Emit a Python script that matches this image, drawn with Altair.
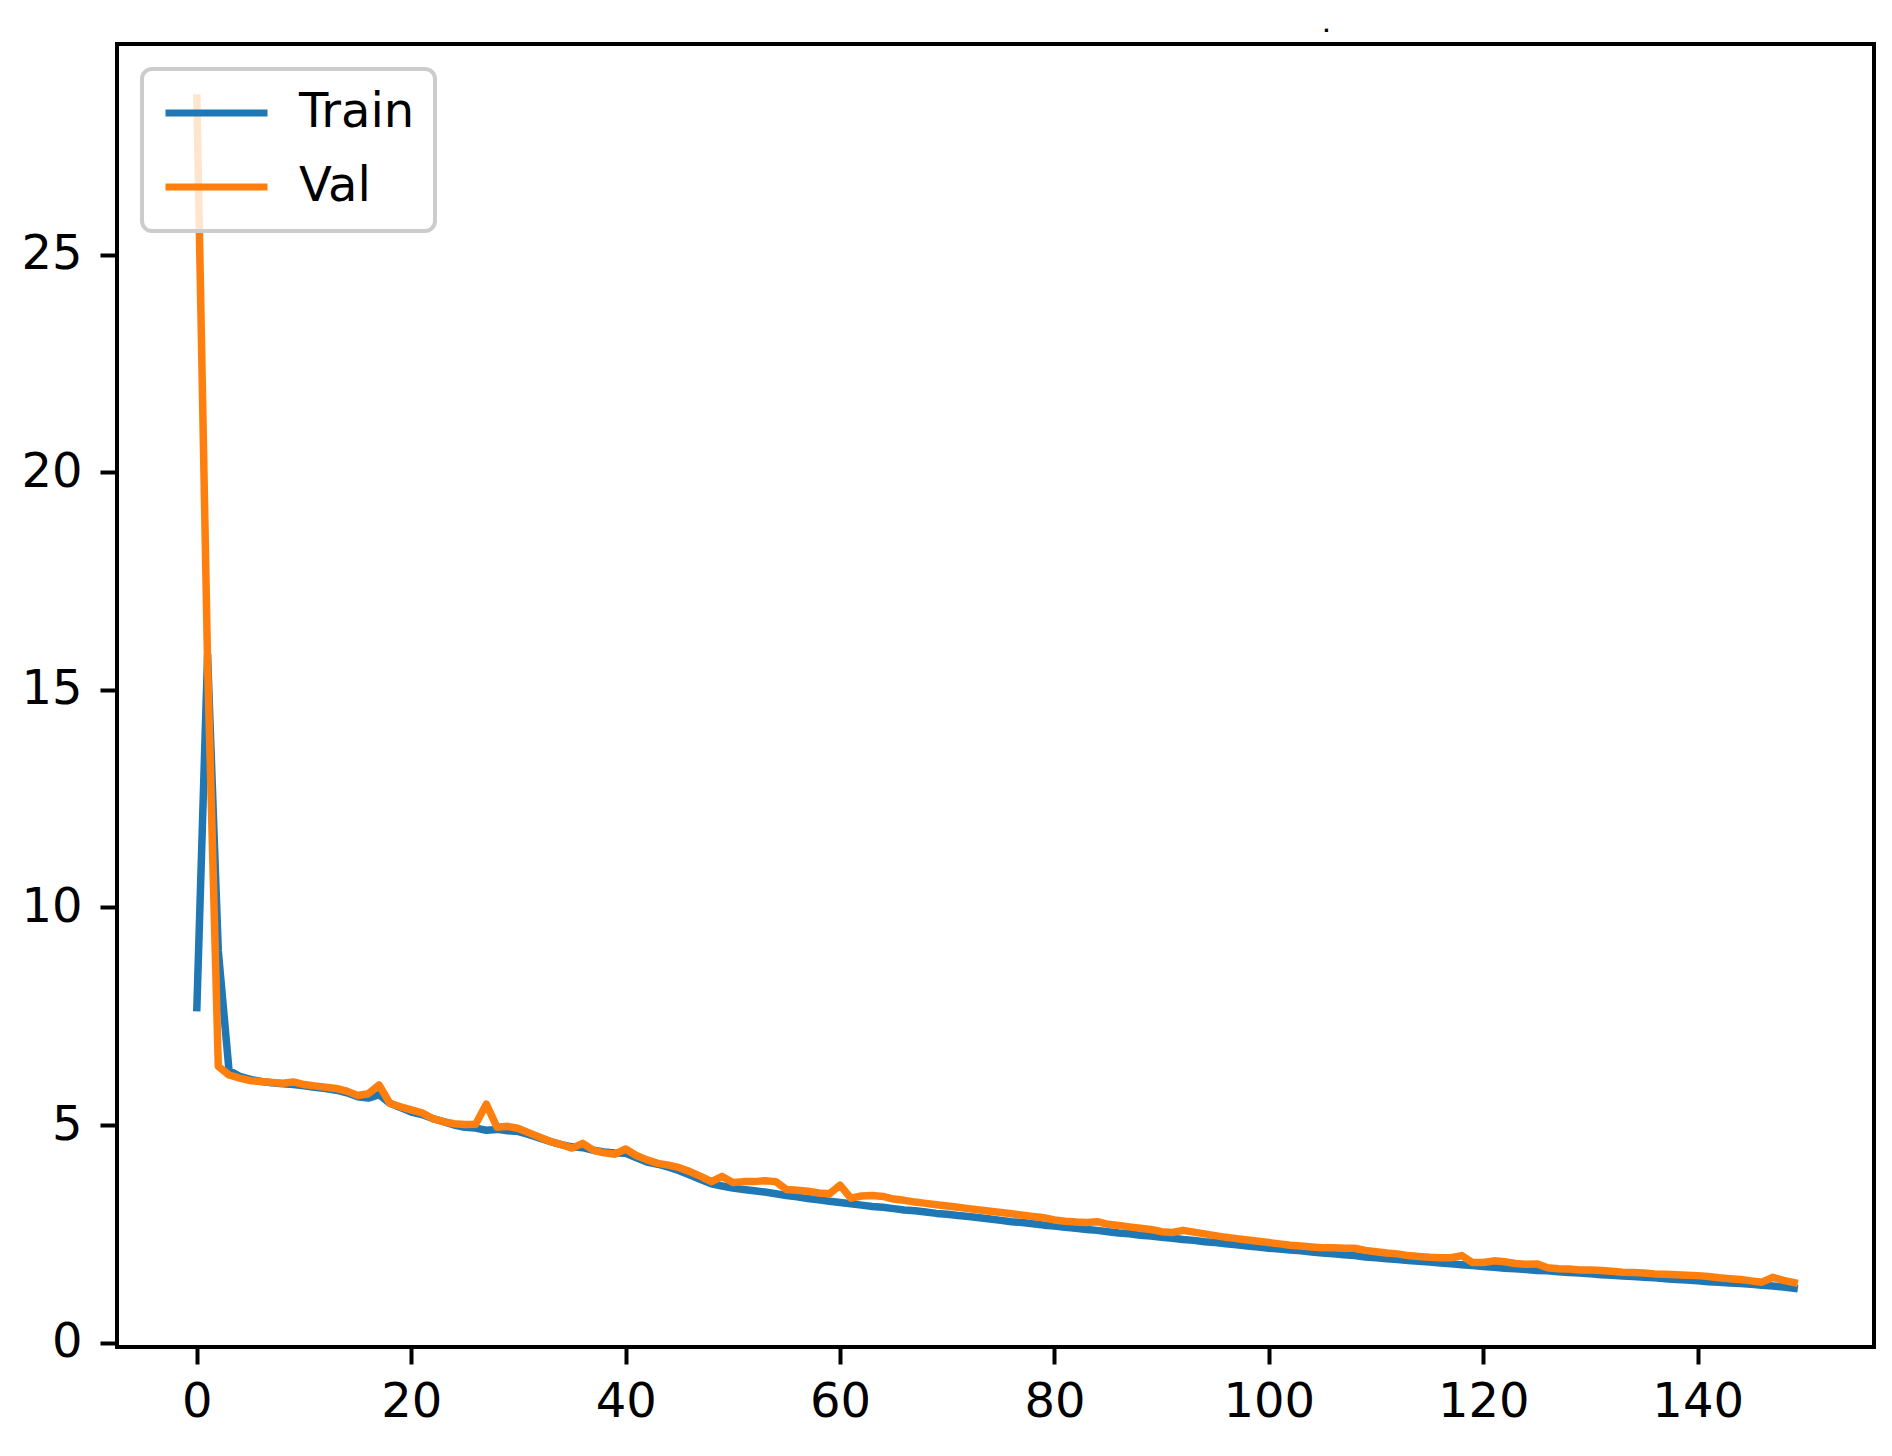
import altair as alt
import pandas as pd

epochs = list(range(150))

train_loss = [
    7.7, 15.8, 9.0, 6.25, 6.12, 6.05, 6.0, 5.97, 5.95, 5.93,
    5.9, 5.87, 5.84, 5.8, 5.74, 5.65, 5.62, 5.7, 5.5, 5.4,
    5.3, 5.24, 5.15, 5.08, 5.0, 4.95, 4.93, 4.88, 4.9, 4.87,
    4.85, 4.78, 4.7, 4.62, 4.55, 4.5, 4.48, 4.42, 4.38, 4.36,
    4.35, 4.25, 4.15, 4.1, 4.03, 3.95, 3.85, 3.75, 3.65, 3.6,
    3.55, 3.52, 3.49, 3.46, 3.42, 3.38, 3.35, 3.31, 3.28, 3.25,
    3.22, 3.19, 3.16, 3.13, 3.11, 3.08, 3.05, 3.03, 3.0, 2.97,
    2.95, 2.92, 2.9, 2.87, 2.84, 2.81, 2.78, 2.76, 2.73, 2.7,
    2.68, 2.65, 2.63, 2.6, 2.58, 2.55, 2.52, 2.5, 2.47, 2.45,
    2.42, 2.4, 2.37, 2.35, 2.32, 2.3, 2.27, 2.25, 2.22, 2.2,
    2.17, 2.15, 2.13, 2.11, 2.08, 2.06, 2.04, 2.02, 2.0, 1.97,
    1.95, 1.93, 1.91, 1.89, 1.87, 1.85, 1.83, 1.81, 1.79, 1.77,
    1.75, 1.73, 1.71, 1.7, 1.68, 1.66, 1.65, 1.63, 1.61, 1.6,
    1.58, 1.56, 1.55, 1.53, 1.52, 1.5, 1.49, 1.47, 1.45, 1.44,
    1.42, 1.4, 1.39, 1.37, 1.36, 1.34, 1.32, 1.3, 1.28, 1.25,
]

val_loss = [
    28.6, 15.6, 6.35, 6.15, 6.08, 6.02, 6.0, 5.98, 5.96, 5.99,
    5.93, 5.9, 5.87, 5.84, 5.78, 5.68, 5.72, 5.92, 5.5, 5.42,
    5.35, 5.28, 5.15, 5.08, 5.03, 5.01, 5.02, 5.48, 4.95, 4.97,
    4.92, 4.82, 4.72, 4.62, 4.55, 4.47, 4.58, 4.42, 4.36, 4.33,
    4.45, 4.3, 4.2, 4.12, 4.08, 4.02, 3.93, 3.82, 3.7, 3.82,
    3.68, 3.7, 3.7, 3.72, 3.7, 3.52, 3.5, 3.48, 3.44, 3.42,
    3.62, 3.32, 3.37, 3.38, 3.36, 3.3, 3.27, 3.23, 3.2, 3.17,
    3.14, 3.11, 3.08, 3.05, 3.02, 2.99, 2.96, 2.93, 2.9, 2.87,
    2.82, 2.79, 2.77, 2.76, 2.78, 2.72, 2.69, 2.66, 2.63, 2.6,
    2.55, 2.53, 2.58, 2.54, 2.5, 2.46, 2.42, 2.39, 2.36, 2.33,
    2.3, 2.27, 2.24, 2.22, 2.2, 2.18, 2.18, 2.17, 2.17, 2.12,
    2.09, 2.06, 2.04, 2.0, 1.98, 1.96, 1.95, 1.95, 2.0, 1.84,
    1.84, 1.88, 1.86, 1.82, 1.8, 1.81, 1.72, 1.7, 1.69, 1.67,
    1.67, 1.66, 1.64, 1.62, 1.61, 1.6, 1.58, 1.57, 1.56, 1.55,
    1.54, 1.52, 1.49, 1.47, 1.45, 1.42, 1.39, 1.5, 1.43, 1.38,
]

series_names = ["Train", "Val"]
series_colors = ["#1f77b4", "#ff7f0e"]
x_ticks = [0, 20, 40, 60, 80, 100, 120, 140]
y_ticks = [0, 5, 10, 15, 20, 25]

df = pd.concat([
    pd.DataFrame({"epoch": epochs, "loss": train_loss, "series": "Train"}),
    pd.DataFrame({"epoch": epochs, "loss": val_loss, "series": "Val"}),
])

FONT = "DejaVu Sans"

chart = alt.Chart(df).mark_line(
    strokeWidth=7.5, strokeCap="square", strokeJoin="round"
).encode(
    x=alt.X("epoch:Q",
            scale=alt.Scale(domain=[-7.45, 156.45], nice=False, zero=False),
            axis=alt.Axis(values=x_ticks, title=None, format="d")),
    y=alt.Y("loss:Q",
            scale=alt.Scale(domain=[-0.1, 29.84], nice=False, zero=False),
            axis=alt.Axis(values=y_ticks, title=None, format="d")),
    color=alt.Color("series:N",
                    scale=alt.Scale(domain=series_names, range=series_colors),
                    legend=alt.Legend(title=None, orient="none",
                                      legendX=25, legendY=25)),
).properties(
    width=1757,
    height=1303,
    title=alt.TitleParams(text=".", fontSize=18, font=FONT, color="black",
                          fontWeight="bold", anchor="middle", dx=331,
                          offset=8),
    autosize=alt.AutoSizeParams(type="none"),
    padding={"left": 109, "top": 36, "right": 10, "bottom": 101},
).configure_view(
    stroke="black", strokeWidth=4
).configure_axis(
    grid=False, domain=False,
    labelFont=FONT, labelFontSize=48, labelColor="black",
    tickColor="black", tickWidth=4, tickSize=17,
).configure_axisX(
    labelPadding=14,
).configure_axisY(
    labelPadding=18,
).configure_legend(
    labelFont=FONT, labelFontSize=48, labelColor="black",
    symbolType="stroke", symbolSize=10404, symbolStrokeWidth=7,
    clipHeight=48,
    labelOffset=28, padding=20, rowPadding=26,
    fillColor="rgba(255,255,255,0.8)", strokeColor="#cccccc",
    cornerRadius=10, strokeWidth=4,
)

chart.save("out.html", embed_options={"renderer": "svg", "actions": False})
